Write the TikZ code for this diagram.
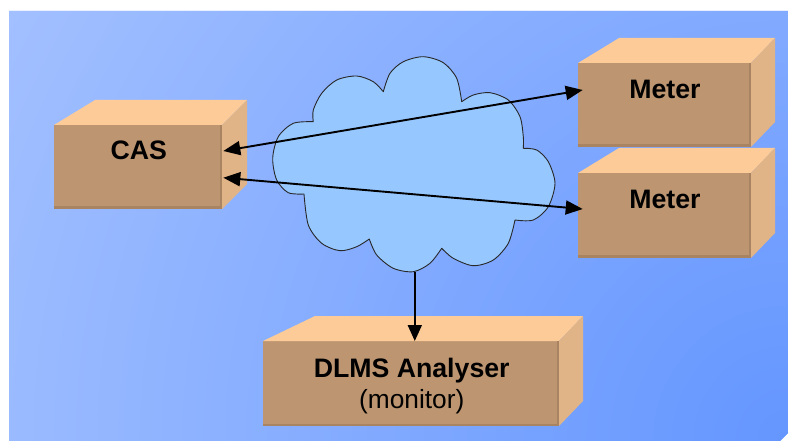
\documentclass[tikz,border=0pt]{standalone}
\usepackage{fontspec}
\setmainfont{Liberation Sans}
\usetikzlibrary{arrows.meta,calc}
\definecolor{bglight}{RGB}{170,197,255}
\definecolor{bgdark}{RGB}{100,150,255}
\definecolor{boxtop}{RGB}{252,203,152}
\definecolor{boxfront}{RGB}{189,150,113}
\definecolor{boxside}{RGB}{225,180,136}
\definecolor{boxedge}{RGB}{168,132,98}
\definecolor{cloudfill}{RGB}{150,200,255}
\definecolor{cloudline}{RGB}{40,40,40}
\tikzset{
  frontface/.style={fill=boxfront, inner sep=0pt, outer sep=0pt, draw=none, rectangle},
  topface/.style={fill=boxtop},
  sideface/.style={fill=boxside},
  edgeline/.style={draw=boxedge, line width=2.5pt},
  lbl/.style={font=\fontsize{26.7}{31}\selectfont\bfseries, inner sep=0pt, anchor=base},
  sublbl/.style={font=\fontsize{26.3}{31}\selectfont, inner sep=0pt, anchor=base},
  link/.style={line width=1.9pt, {Triangle[length=17pt,width=14pt]}-{Triangle[length=17pt,width=14pt]}},
  onelink/.style={line width=1.9pt, -{Triangle[length=16pt,width=14pt]}},
  cloudshape/.style={fill=cloudfill, draw=cloudline, line width=0.9pt, line join=round},
}
\newcommand\boxfaces[3]{%
  \fill[topface] (#1.north west) -- (#1.north east) -- ($(#1.north east)+(#3,-25)$) -- ($(#1.north west)+(#2,-25)$) -- cycle;
  \fill[sideface] (#1.north east) -- ($(#1.north east)+(#3,-25)$) -- ($(#1.south east)+(#3,-25)$) -- (#1.south east) -- cycle;
  \draw[edgeline] ($(#1.south west)+(0,-1.25)$) -- ($(#1.south east)+(-1.25,-1.25)$) -- ($(#1.north east)+(-1.25,0)$);
}
\begin{document}
\begin{tikzpicture}[x=1pt,y=-1pt]
\useasboundingbox (0,0) rectangle (788,441);
% background
\begin{scope}
  \clip (9,11) -- (788,11) -- (788,433) -- (780,441) -- (9,441) -- cycle;
  \fill[bglight] (0,0) rectangle (788,441);
  \shade[inner color=bgdark, outer color=bglight] (788,441) circle (1000pt);
\end{scope}
% cloud
\draw[cloudshape] (304,194)
 -- plot[smooth] coordinates {(304,194) (288.3,192.7) (276.7,180) (272.7,158.3) (278.3,136.7) (293.3,123.3) (313.3,121.7)}
 -- plot[smooth] coordinates {(313.3,121.7) (313.3,110) (321.7,93.3) (336.7,80) (356.7,76) (373.3,81.7) (383.3,91.7)}
 -- plot[smooth] coordinates {(383.3,91.7) (390,73.3) (403.3,61.7) (423.3,56.7) (443.3,62.7) (456.7,78.3) (461.7,101.7)}
 -- plot[smooth] coordinates {(461.7,101.7) (473.3,95) (490,92.7) (508.3,100) (520,116.7) (523.3,136.7) (523.3,148.3)}
 -- plot[smooth] coordinates {(523.3,148.3) (536.7,150) (548.3,161.7) (555,183.3) (548.3,206.7) (533.3,220) (515,220)}
 -- plot[smooth] coordinates {(515,220) (508.3,243.3) (493.3,260) (473.3,265.7) (453.3,258.3) (441.7,248.3)}
 -- plot[smooth] coordinates {(441.7,248.3) (430,263.3) (413.3,271.7) (393.3,268.3) (376.7,255) (369.3,239)}
 -- plot[smooth] coordinates {(369.3,239) (356.7,246.7) (340,250.7) (321.7,243.3) (308.3,225) (304,194)}
 -- cycle;
\coordinate (cloudbot) at (414.8,271.6);
% boxes
\node[frontface, minimum width=168pt, minimum height=84pt] (cas) at (138,167) {};
\boxfaces{cas}{41}{25}
\node[frontface, minimum width=173pt, minimum height=84pt] (meterA) at (664.5,105) {};
\boxfaces{meterA}{41}{24}
\node[frontface, minimum width=173pt, minimum height=85pt] (meterB) at (664.5,215.5) {};
\boxfaces{meterB}{41}{24}
\node[frontface, minimum width=296pt, minimum height=85pt] (dlms) at (411,383.5) {};
\boxfaces{dlms}{52}{24}
% labels
\node[lbl] (castxt) at ($(cas.north)+(0.8,35)$) {CAS};
\node[lbl] (meterAtxt) at ($(meterA.north)+(0.5,35.3)$) {Meter};
\node[lbl] (meterBtxt) at ($(meterB.north)+(0.5,35.3)$) {Meter};
\node[lbl] (dlmstxt) at ($(dlms.north)+(0.7,36.3)$) {DLMS Analyser};
\node[sublbl] (montxt) at ($(dlms.north)+(0.7,67)$) {(monitor)};
% connectors
\draw[link] ($(cas.north east)+(1.3,26)$) -- ($(meterA.north west)+(4.7,27)$);
\draw[link] ($(cas.north east)+(1.3,52.7)$) -- ($(meterB.north west)+(4.7,36)$);
\draw[onelink] (cloudbot) -- (cloudbot |- dlms.north);
\end{tikzpicture}
\end{document}
